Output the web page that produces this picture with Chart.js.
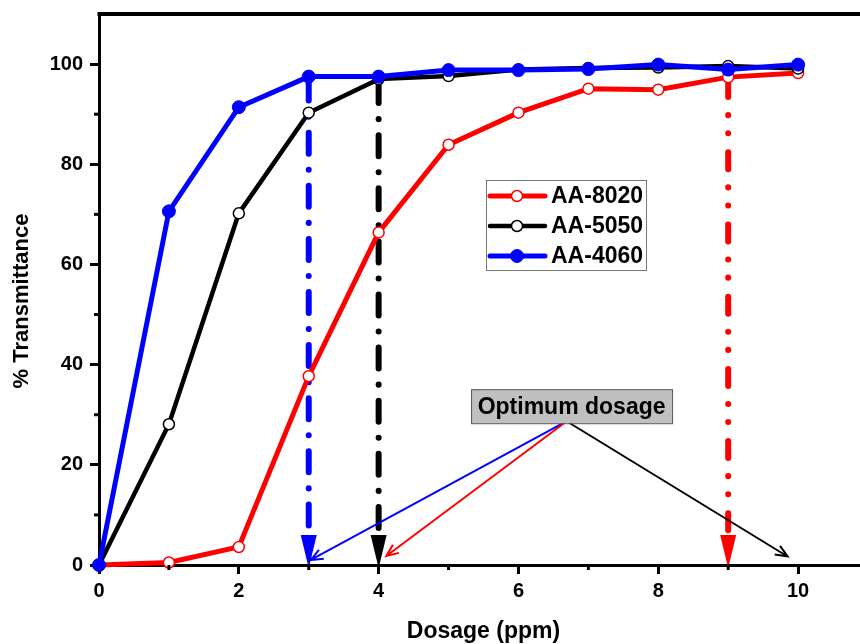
<!DOCTYPE html>
<html>
<head>
<meta charset="utf-8">
<title>Transmittance vs dosage</title>
<script src="https://cdn.jsdelivr.net/npm/chart.js"></script>
<style>
  html, body { margin: 0; padding: 0; background: #fff; overflow: hidden; }
  #wrap { width: 860px; height: 644px; overflow: hidden; }
  canvas { display: block; }
</style>
</head>
<body>
<div id="wrap"><canvas id="chart" width="900" height="644"></canvas></div>
<script>
// === DATOS ===
const dosages = [0, 1, 2, 3, 4, 5, 6, 7, 8, 9, 10];
const aa8020 = [0, 0.5, 3.6, 37.7, 66.4, 83.9, 90.3, 95.1, 94.9, 97.4, 98.2];
const aa5050 = [0, 28.1, 70.2, 90.3, 97.0, 97.6, 98.9, 99.2, 99.3, 99.6, 99.1];
const aa4060 = [0, 70.6, 91.4, 97.5, 97.5, 98.8, 98.8, 99.0, 99.9, 98.9, 99.9];
const seriesNames = ['AA-8020', 'AA-5050', 'AA-4060'];

const xTicksMajor = [0, 2, 4, 6, 8, 10];
const xTicksMinor = [1, 3, 5, 7, 9];
const yTicksMajor = [0, 20, 40, 60, 80, 100];
const yTicksMinor = [10, 30, 50, 70, 90];

// dosis óptima de cada serie (índice de serie, dosis)
const optimumSeries = [2, 1, 0];
const optimumDose = [3, 4, 9];

// caja "Optimum dosage" y destinos de sus flechas (unidades de datos)
const noteText = 'Optimum dosage';
const noteCenter = [6.76, 31.7];
const noteFrom = [6.69, 28.7];
const noteTargetsX = [3.03, 4.11, 9.85];
const noteTargetsY = [1.0, 1.8, 1.7];
const noteColors = ['#0000ff', '#ff0000', '#000000'];

const yTitle = '% Transmittance';
const xTitle = 'Dosage (ppm)';

const FONT = "'Liberation Sans', Arial, sans-serif";
const colors = ['#ff0000', '#000000', '#0000ff'];
// trazo de las líneas verticales: raya-punto-punto (rojo), raya-punto (negro, azul)
const dropDash = [[17, 18, 0.1, 18, 0.1, 19], [21, 16, 0.1, 16], [21, 16, 0.1, 16]];

const toXY = vals => dosages.map((d, i) => ({ x: d, y: vals[i] }));

// === PLUGIN: marco, ticks menores, flechas, leyenda ===
const extras = {
  id: 'extras',
  beforeDatasetsDraw(chart) {
    const { ctx, scales: { x, y } } = chart;
    const all = [aa8020, aa5050, aa4060];
    ctx.save();
    optimumSeries.forEach((si, k) => {
      const d = optimumDose[k];
      const px = x.getPixelForValue(d);
      const top = y.getPixelForValue(all[si][dosages.indexOf(d)]);
      const bot = y.getPixelForValue(0);
      ctx.strokeStyle = colors[si];
      ctx.fillStyle = colors[si];
      ctx.lineWidth = 6;
      ctx.lineCap = 'round';
      ctx.setLineDash(dropDash[si]);
      ctx.beginPath();
      ctx.moveTo(px, top + 3);
      ctx.lineTo(px, bot - 30);
      ctx.stroke();
      ctx.setLineDash([]);
      // punta de flecha
      ctx.beginPath();
      ctx.moveTo(px - 8, bot - 30);
      ctx.lineTo(px + 8, bot - 30);
      ctx.lineTo(px + 1, bot - 1);
      ctx.lineTo(px - 1, bot - 1);
      ctx.closePath();
      ctx.fill();
    });
    ctx.restore();
  },
  afterDraw(chart) {
    const { ctx, chartArea: a, scales: { x, y } } = chart;
    ctx.save();

    // borde superior y derecho del marco
    ctx.strokeStyle = '#000';
    ctx.lineWidth = 4;
    ctx.beginPath();
    ctx.moveTo(a.left - 1.5, a.top);
    ctx.lineTo(a.right, a.top);
    ctx.lineTo(a.right, a.bottom);
    ctx.stroke();

    // ticks menores
    ctx.lineWidth = 3;
    xTicksMinor.forEach(v => {
      const px = x.getPixelForValue(v);
      ctx.beginPath();
      ctx.moveTo(px, a.bottom);
      ctx.lineTo(px, a.bottom + 5);
      ctx.stroke();
    });
    yTicksMinor.forEach(v => {
      const py = y.getPixelForValue(v);
      ctx.beginPath();
      ctx.moveTo(a.left, py);
      ctx.lineTo(a.left - 5, py);
      ctx.stroke();
    });

    // títulos de ejes
    ctx.fillStyle = '#000';
    ctx.font = `bold 23px ${FONT}`;
    ctx.textAlign = 'center';
    ctx.textBaseline = 'middle';
    ctx.fillText(xTitle, (a.left + a.right) / 2, 632);
    ctx.save();
    ctx.translate(22, 301);
    ctx.rotate(-Math.PI / 2);
    ctx.font = `bold 22px ${FONT}`;
    ctx.fillText(yTitle, 0, 0);
    ctx.restore();

    // flechas desde la caja de nota
    const fx = x.getPixelForValue(noteFrom[0]);
    const fy = y.getPixelForValue(noteFrom[1]);
    noteTargetsX.forEach((tx, i) => {
      const ex = x.getPixelForValue(tx);
      const ey = y.getPixelForValue(noteTargetsY[i]);
      const ang = Math.atan2(ey - fy, ex - fx);
      ctx.strokeStyle = noteColors[i];
      ctx.lineWidth = 2;
      ctx.lineCap = 'butt';
      ctx.beginPath();
      ctx.moveTo(fx, fy);
      ctx.lineTo(ex, ey);
      ctx.moveTo(ex - 13 * Math.cos(ang - 0.4), ey - 13 * Math.sin(ang - 0.4));
      ctx.lineTo(ex, ey);
      ctx.lineTo(ex - 13 * Math.cos(ang + 0.4), ey - 13 * Math.sin(ang + 0.4));
      ctx.stroke();
    });

    // caja de nota
    const cx = x.getPixelForValue(noteCenter[0]);
    const cy = y.getPixelForValue(noteCenter[1]);
    const bw = 201, bh = 34;
    ctx.fillStyle = '#c0c0c0';
    ctx.fillRect(cx - bw / 2, cy - bh / 2, bw, bh);
    ctx.strokeStyle = '#555';
    ctx.lineWidth = 1;
    ctx.strokeRect(cx - bw / 2 + 0.5, cy - bh / 2 + 0.5, bw, bh);
    ctx.fillStyle = '#000';
    ctx.font = `bold 23px ${FONT}`;
    ctx.textAlign = 'center';
    ctx.textBaseline = 'middle';
    ctx.fillText(noteText, cx, cy + 1);

    // leyenda
    const lx = 486, ly = 180, lw = 160, lh = 90;
    ctx.strokeStyle = '#777';
    ctx.lineWidth = 1;
    ctx.strokeRect(lx + 0.5, ly + 0.5, lw, lh);
    [0, 1, 2].forEach((dsIndex, row) => {
      const ds = chart.data.datasets[dsIndex];
      const ry = ly + 16 + row * 30;
      ctx.strokeStyle = ds.borderColor;
      ctx.lineWidth = ds.borderWidth;
      ctx.lineCap = 'round';
      ctx.beginPath();
      ctx.moveTo(lx + 4, ry);
      ctx.lineTo(lx + 59, ry);
      ctx.stroke();
      ctx.beginPath();
      ctx.arc(lx + 31, ry, ds.pointRadius, 0, Math.PI * 2);
      ctx.fillStyle = ds.pointBackgroundColor;
      ctx.fill();
      ctx.strokeStyle = ds.pointBorderColor;
      ctx.lineWidth = ds.pointBorderWidth;
      ctx.stroke();
      ctx.fillStyle = '#000';
      ctx.font = `bold 23px ${FONT}`;
      ctx.textAlign = 'left';
      ctx.textBaseline = 'middle';
      ctx.fillText(ds.label, lx + 65, ry + 1);
    });

    ctx.restore();
  }
};

// === GRÁFICO ===
const ctx = document.getElementById('chart').getContext('2d');
new Chart(ctx, {
  type: 'line',
  data: {
    datasets: [
      {
        label: seriesNames[0], data: toXY(aa8020), order: 3,
        borderColor: colors[0], borderWidth: 5,
        pointRadius: 5.5, pointBackgroundColor: '#fff',
        pointBorderColor: colors[0], pointBorderWidth: 1.5, clip: false
      },
      {
        label: seriesNames[1], data: toXY(aa5050), order: 2,
        borderColor: colors[1], borderWidth: 4.5,
        pointRadius: 5.5, pointBackgroundColor: '#fff',
        pointBorderColor: colors[1], pointBorderWidth: 1.5, clip: false
      },
      {
        label: seriesNames[2], data: toXY(aa4060), order: 1,
        borderColor: colors[2], borderWidth: 5,
        pointRadius: 6.5, pointBackgroundColor: colors[2],
        pointBorderColor: colors[2], pointBorderWidth: 1, clip: false
      }
    ]
  },
  options: {
    responsive: false,
    animation: false,
    layout: { padding: { top: 14, right: 32, left: 0, bottom: 0 } },
    plugins: { legend: { display: false }, tooltip: { enabled: false } },
    elements: { line: { tension: 0 } },
    scales: {
      x: {
        type: 'linear', min: 0, max: 11,
        afterFit: s => { s.height = 79; s.paddingLeft = 0; s.paddingRight = 0; },
        afterBuildTicks: s => { s.ticks = xTicksMajor.map(v => ({ value: v })); },
        border: { display: true, color: '#000', width: 3 },
        grid: { drawOnChartArea: false, tickLength: 9, tickWidth: 3, tickColor: '#000' },
        ticks: { color: '#000', font: { family: FONT, size: 20, weight: 'bold' }, padding: 5, maxRotation: 0 },
        title: { display: false }
      },
      y: {
        type: 'linear', min: 0, max: 110,
        afterFit: s => { s.width = 99; s.paddingTop = 0; s.paddingBottom = 0; },
        afterBuildTicks: s => { s.ticks = yTicksMajor.map(v => ({ value: v })); },
        border: { display: true, color: '#000', width: 3 },
        grid: { drawOnChartArea: false, tickLength: 9, tickWidth: 3, tickColor: '#000' },
        ticks: { color: '#000', font: { family: FONT, size: 20, weight: 'bold' }, padding: 7 },
        title: { display: false }
      }
    }
  },
  plugins: [extras]
});
</script>
</body>
</html>
